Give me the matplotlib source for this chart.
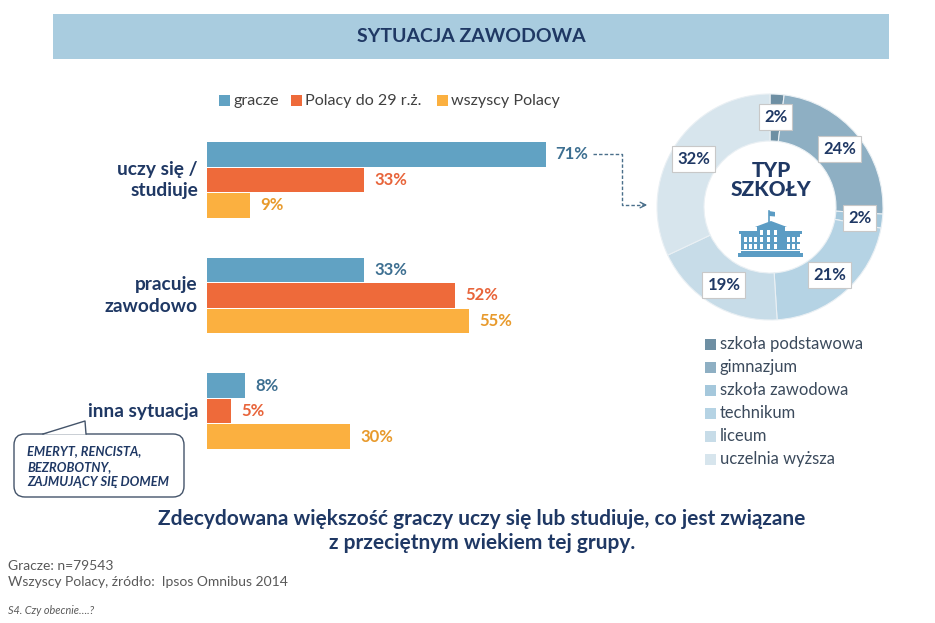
import matplotlib
matplotlib.use('Agg')
import matplotlib.pyplot as plt
from matplotlib.patches import Rectangle, FancyBboxPatch, Polygon
import numpy as np

plt.rcParams['font.family'] = ['Lato', 'DejaVu Sans']

# ---------------- data ----------------
categories = ['uczy się /\nstudiuje', 'pracuje\nzawodowo', 'inna sytuacja']
series_names = ['gracze', 'Polacy do 29 r.ż.', 'wszyscy Polacy']
gracze = [71, 33, 8]
polacy29 = [33, 52, 5]
wszyscy = [9, 55, 30]
school_types = ['szkoła podstawowa', 'gimnazjum', 'szkoła zawodowa',
                'technikum', 'liceum', 'uczelnia wyższa']
school_share = [2, 24, 2, 21, 19, 32]

# ---------------- style ----------------
NAVY = '#1F3864'
bar_colors = ['#61A2C3', '#EE6A3A', '#FBB040']
label_colors = ['#3D6F91', '#E8643A', '#E89A2C']
donut_colors = ['#6E8FA3', '#8EAFC3', '#A5C8DC', '#B5D3E4', '#C7DCE8', '#D7E5ED']

W, H = 935, 623
fig = plt.figure(figsize=(W / 100, H / 100), dpi=100)
bg = fig.add_axes([0, 0, 1, 1])
bg.set_xlim(0, W)
bg.set_ylim(H, 0)
bg.axis('off')

# title banner
bg.add_patch(Rectangle((53, 14), 836, 45, facecolor='#A9CCDF', edgecolor='none'))
bg.text(471, 37, 'SYTUACJA ZAWODOWA', ha='center', va='center', fontsize=14,
        fontweight='bold', color=NAVY)

# legend for bars
leg_x = [219, 291, 437]
for x0, name, c in zip(leg_x, series_names, bar_colors):
    bg.add_patch(Rectangle((x0, 95), 11, 11, facecolor=c, edgecolor='none'))
    bg.text(x0 + 14, 101, name, ha='left', va='center', fontsize=11.6, color='#404040')

# ---------------- bars ----------------
bar_left, bar_top, bar_w, bar_h = 207, 130, 477, 330
u = 25.5  # px per bar unit
axb = fig.add_axes([bar_left / W, 1 - (bar_top + bar_h) / H, bar_w / W, bar_h / H])
axb.set_xlim(0, 100)
axb.set_ylim(bar_h / u, 0)
axb.axis('off')
axb.patch.set_alpha(0)
centers = 1.96 + np.arange(len(categories)) * 4.53
for k, (vals, c, lc) in enumerate(zip([gracze, polacy29, wszyscy], bar_colors, label_colors)):
    ys = centers + (k - 1) * 1.0
    axb.barh(ys, vals, height=0.97, color=c, edgecolor='none')
    for y, v in zip(ys, vals):
        axb.text(v + 2.1, y, f'{v}%', ha='left', va='center', fontsize=12,
                 fontweight='bold', color=lc)
for y, cat in zip(centers, categories):
    axb.text(-1.9, y, cat, ha='right', va='center', fontsize=13.8,
             fontweight='bold', color=NAVY, linespacing=1.35, clip_on=False)

# dashed arrow from 71% to donut
bg.plot([593, 622, 622, 644], [154, 154, 205, 205], ls=(0, (2.5, 1.5)), lw=1,
        color='#4A6F8A')
bg.annotate('', xy=(650, 205), xytext=(640, 205),
            arrowprops=dict(arrowstyle='->', color='#4A6F8A', lw=1))

# callout box
bg.add_patch(FancyBboxPatch((14, 434), 170, 63, boxstyle='round,pad=0,rounding_size=11',
                            facecolor='white', edgecolor='#44546A', lw=1))
bg.add_patch(Polygon([(43, 434.6), (85, 421), (86, 434.6)], closed=True,
                     facecolor='white', edgecolor='none', zorder=3))
bg.plot([43, 85, 86], [434, 421, 434], color='#44546A', lw=1, zorder=4)
bg.text(27, 467, 'EMERYT, RENCISTA,\nBEZROBOTNY,\nZAJMUJĄCY SIĘ DOMEM', ha='left',
        va='center', fontsize=9.3, fontstyle='italic', fontweight='bold', color=NAVY,
        linespacing=1.35)

# ---------------- donut ----------------
cx, cy, R = 770, 207, 113
half = 125
axd = fig.add_axes([(cx - half) / W, 1 - (cy + half) / H, 2 * half / W, 2 * half / H])
ring = (R - 66) / R
axd.pie(school_share, colors=donut_colors, startangle=90, counterclock=False,
        radius=1, wedgeprops=dict(width=ring, edgecolor='#EAF0F4', linewidth=0.8))
axd.set_xlim(-half / R, half / R)
axd.set_ylim(-half / R, half / R)
axd.set_aspect('equal')
axd.axis('off')
axd.patch.set_alpha(0)
total = sum(school_share)
cum = 0
for v in school_share:
    mid = (cum + v / 2) / total * 2 * np.pi
    cum += v
    r = 0.8
    axd.text(r * np.sin(mid), r * np.cos(mid), f'{v}%', ha='center', va='center',
             fontsize=12, fontweight='bold', color=NAVY,
             bbox=dict(boxstyle='square,pad=0.3', facecolor='white', edgecolor='#C8C8C8',
                       lw=0.8))

# centre text
bg.text(cx + 1, 180, 'TYP\nSZKOŁY', ha='center', va='center', fontsize=15,
        fontweight='black', color=NAVY, linespacing=1.05, zorder=5)

# building icon
IC = '#5B9CC4'
icon = fig.add_axes([0, 0, 1, 1])
icon.set_xlim(0, W)
icon.set_ylim(H, 0)
icon.axis('off')
icon.patch.set_alpha(0)
icon.add_patch(Rectangle((738, 253), 65, 3.5, facecolor=IC, edgecolor='none'))
icon.add_patch(Rectangle((741, 233), 59, 20, facecolor=IC, edgecolor='none'))
icon.add_patch(Rectangle((739, 231), 63, 2.5, facecolor=IC, edgecolor='none'))
icon.add_patch(Rectangle((757, 226), 28, 27, facecolor=IC, edgecolor='none'))
icon.add_patch(Polygon([(755, 227), (771, 221), (787, 227)], closed=True, facecolor=IC,
                       edgecolor='none'))
icon.plot([769, 769], [211, 223], color=IC, lw=1.2)
icon.add_patch(Polygon([(769, 211), (775, 212), (775, 216.5), (769, 216)], closed=True,
                       facecolor=IC, edgecolor='none'))
# windows
for xs, rows in [((744, 749, 754), (237, 244)), ((787, 792, 797), (237, 244)),
                 ((760, 767, 774), (230, 237, 244))]:
    for wx in xs:
        for wy in rows:
            icon.add_patch(Rectangle((wx, wy), 3, 5, facecolor='white', edgecolor='none'))
icon.add_patch(Rectangle((740.5, 250), 60, 1.2, facecolor='white', edgecolor='none'))

# donut legend
leg_y = [344, 367, 390, 413, 436, 459]
for y, name, c in zip(leg_y, school_types, donut_colors):
    bg.add_patch(Rectangle((705, y - 5.5), 11, 11, facecolor=c, edgecolor='none'))
    bg.text(720, y, name, ha='left', va='center', fontsize=11.9, color='#3B4A5C')

# ---------------- bottom texts ----------------
bg.text(482, 531, 'Zdecydowana większość graczy uczy się lub studiuje, co jest związane\n'
        'z przeciętnym wiekiem tej grupy.', ha='center', va='center', fontsize=15,
        fontweight='bold', color=NAVY, linespacing=1.2)
bg.text(8, 566, 'Gracze: n=79543', ha='left', va='center', fontsize=10, color='#595959')
bg.text(8, 582, 'Wszyscy Polacy, źródło:  Ipsos Omnibus 2014', ha='left', va='center',
        fontsize=10, color='#595959')
bg.text(8, 611, 'S4. Czy obecnie….?', ha='left', va='center', fontsize=7.8,
        fontstyle='italic', color='#595959')

fig.savefig('out.png', dpi=100)
